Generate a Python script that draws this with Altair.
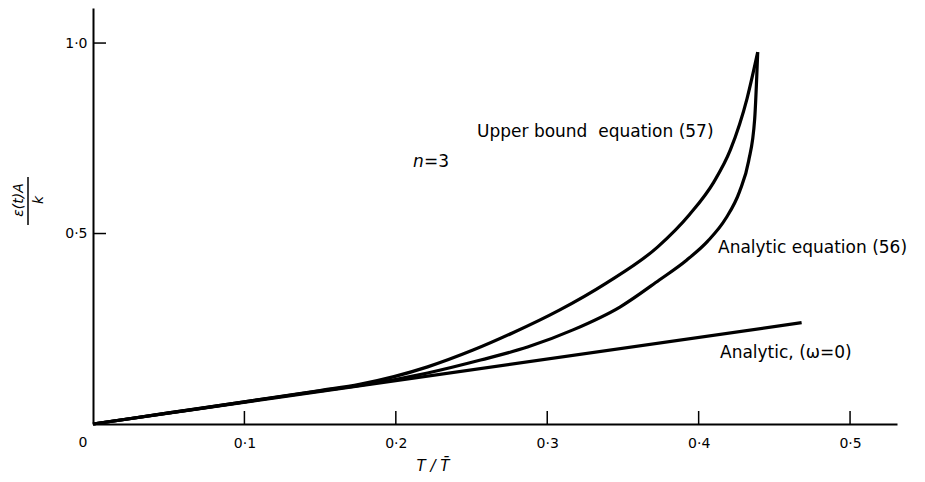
import altair as alt
import pandas as pd

# ---- data ----
upper_x = [0.0, 0.05, 0.10, 0.15, 0.176, 0.221, 0.251, 0.277, 0.308, 0.339, 0.373, 0.394, 0.410, 0.421, 0.432, 0.439]
upper_y = [0.0, 0.029, 0.058, 0.088, 0.104, 0.150, 0.194, 0.239, 0.299, 0.370, 0.465, 0.550, 0.635, 0.720, 0.855, 0.976]

analytic_x = [0.0, 0.05, 0.10, 0.15, 0.176, 0.221, 0.256, 0.287, 0.317, 0.348, 0.374, 0.392, 0.406, 0.418, 0.427, 0.433, 0.437, 0.439]
analytic_y = [0.0, 0.029, 0.058, 0.087, 0.101, 0.134, 0.168, 0.202, 0.247, 0.307, 0.378, 0.430, 0.480, 0.540, 0.610, 0.690, 0.800, 0.976]

linear_x = [0.0, 0.468]
linear_y = [0.0, 0.266]

x_ticks = [0.1, 0.2, 0.3, 0.4, 0.5]
y_ticks = [0.5, 1.0]

FONT = "DejaVu Sans"
W, H = 804, 416
XDOM = [0, 0.531]
YDOM = [0, 1.092]

rows = []
for name, xs, ys in [("upper", upper_x, upper_y), ("analytic", analytic_x, analytic_y), ("linear", linear_x, linear_y)]:
    for a, b in zip(xs, ys):
        rows.append({"series": name, "x": a, "y": b})
df = pd.DataFrame(rows)

xscale = alt.Scale(domain=XDOM, nice=False, zero=False)
yscale = alt.Scale(domain=YDOM, nice=False, zero=False)
label_expr = "replace(format(datum.value, '.1f'), '.', '·')"
xaxis = alt.Axis(values=x_ticks, labelExpr=label_expr, ticks=False, tickSize=0, grid=False, title=None,
                 domainColor="black", domainWidth=2, labelFont=FONT, labelFontSize=14, labelColor="black",
                 labelPadding=19, labelBaseline="middle")
yaxis = alt.Axis(values=y_ticks, labelExpr=label_expr, ticks=False, tickSize=0, grid=False, title=None,
                 domainColor="black", domainWidth=2, labelFont=FONT, labelFontSize=14, labelColor="black",
                 labelPadding=6)

lines = alt.Chart(df).mark_line(color="black", strokeWidth=3.2, interpolate="monotone").encode(
    x=alt.X("x:Q", scale=xscale, axis=xaxis),
    y=alt.Y("y:Q", scale=yscale, axis=yaxis),
    detail="series:N",
    order="x:Q",
)

xt = alt.Chart(pd.DataFrame({"x": x_ticks})).mark_rule(color="black", strokeWidth=1.5).encode(
    x=alt.X("x:Q", scale=xscale, axis=xaxis), y=alt.value(H), y2=alt.value(H - 13))
yt = alt.Chart(pd.DataFrame({"y": y_ticks})).mark_rule(color="black", strokeWidth=1.5).encode(
    y=alt.Y("y:Q", scale=yscale, axis=yaxis), x=alt.value(0), x2=alt.value(13))

def label(text, x, y, align="left", italic=False, size=17, angle=0):
    kw = dict(text=text, align=align, baseline="middle", font=FONT, fontSize=size, color="black")
    if italic:
        kw["fontStyle"] = "italic"
    if angle:
        kw["angle"] = angle
    return alt.Chart(pd.DataFrame({"a": [0]})).mark_text(**kw).encode(x=alt.value(x), y=alt.value(y))

texts = [
    label("Upper bound\u00a0 equation (57)", 384, 124),
    label("n", 320, 154, italic=True),
    label("=3", 331, 154),
    label("Analytic equation (56)", 625, 240),
    label("Analytic, (ω=0)", 627, 345),
    label("0", -10, 435, align="center", size=14),
    label("T / T\u0304", 340, 458, align="center", italic=True, size=15),
    label("ε(t)A", -74, 192, align="center", italic=True, size=14, angle=270),
    label("k", -54, 192, align="center", italic=True, size=14, angle=270),
]
bar = alt.Chart(pd.DataFrame({"a": [0]})).mark_rule(color="black", strokeWidth=1.5).encode(
    x=alt.value(-65), y=alt.value(169), y2=alt.value(217))

chart = alt.layer(lines, xt, yt, bar, *texts).properties(
    width=W, height=H,
    padding={"left": 85, "top": 0, "right": 20, "bottom": 56},
    autosize=alt.AutoSizeParams(type="none"),
    background="white",
).configure_view(stroke=None)

chart.save("out.html", embed_options={"renderer": "svg", "actions": False})
